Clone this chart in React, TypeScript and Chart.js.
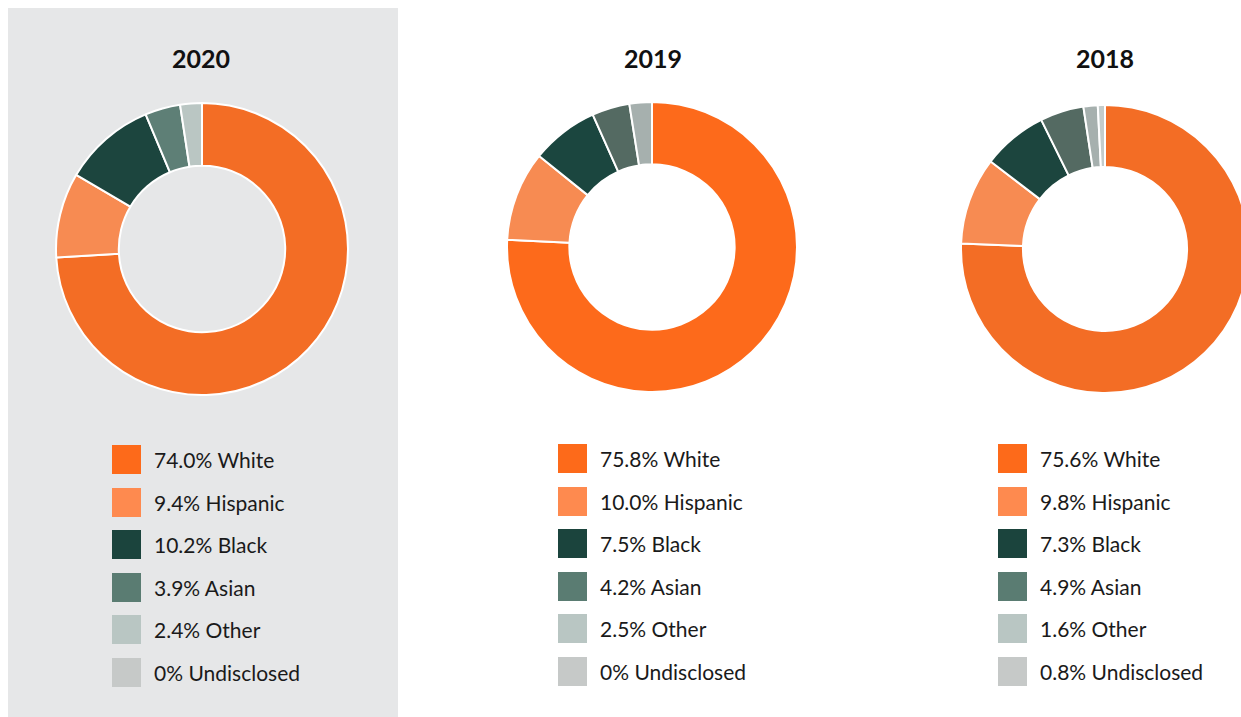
import React, { useEffect, useRef } from "react";
import { Chart, registerables } from "chart.js";

Chart.register(...registerables);

const categories = ["White", "Hispanic", "Black", "Asian", "Other", "Undisclosed"];
const years = ["2020", "2019", "2018"];
const values2020 = [74.0, 9.4, 10.2, 3.9, 2.4, 0];
const values2019 = [75.8, 10.0, 7.5, 4.2, 2.5, 0];
const values2018 = [75.6, 9.8, 7.3, 4.9, 1.6, 0.8];

const sliceColors2020 = ["#f36d25", "#f78b52", "#1c453e", "#5e7f76", "#bac6c3", "#c6cbca"];
const sliceColors2019 = ["#fd6a1b", "#f78b52", "#1b463f", "#546a62", "#a6b0ae", "#c6cbca"];
const sliceColors2018 = ["#f36d25", "#f78b52", "#1c453e", "#546a62", "#a6b0ae", "#c4cccb"];
const legendColors = ["#fd6a1a", "#fe8a4f", "#1b443d", "#5a7c72", "#b9c6c3", "#c6c9c8"];

const FONT = "Lato, 'Open Sans', sans-serif";

type PanelProps = {
  title: string;
  values: number[];
  colors: string[];
  canvasLeft: number;
  canvasTop: number;
  size: number;
  legendLeft: number;
  legendTop: number;
  titleCenter: number;
};

function fmt(v: number) {
  return v === 0 ? "0%" : v.toFixed(1) + "%";
}

function Doughnut({ values, colors, size, left, top }: { values: number[]; colors: string[]; size: number; left: number; top: number }) {
  const ref = useRef<HTMLCanvasElement | null>(null);
  useEffect(() => {
    if (!ref.current) return;
    const chart = new Chart(ref.current, {
      type: "doughnut",
      data: {
        labels: categories,
        datasets: [
          {
            data: values,
            backgroundColor: colors,
            borderColor: "#ffffff",
            borderWidth: 2,
          },
        ],
      },
      options: {
        responsive: false,
        animation: false,
        cutout: "57%",
        layout: { padding: 0 },
        plugins: { legend: { display: false }, tooltip: { enabled: false } },
      },
    });
    return () => chart.destroy();
  }, []);
  return (
    <canvas
      ref={ref}
      width={size}
      height={size}
      style={{ position: "absolute", left, top, width: size, height: size }}
    />
  );
}

function Panel(p: PanelProps) {
  return (
    <>
      <div
        style={{
          position: "absolute",
          left: p.titleCenter - 100,
          width: 200,
          top: 35,
          textAlign: "center",
          fontFamily: FONT,
          fontWeight: 700,
          fontSize: 25,
          lineHeight: "30px",
          color: "#111",
        }}
      >
        {p.title}
      </div>
      <Doughnut values={p.values} colors={p.colors} size={p.size} left={p.canvasLeft} top={p.canvasTop} />
      {categories.map((c, i) => (
        <div
          key={c}
          style={{
            position: "absolute",
            left: p.legendLeft,
            top: Math.round(p.legendTop + i * 42.6),
            height: 29,
            display: "flex",
            alignItems: "center",
            fontFamily: FONT,
            fontSize: 21,
            color: "#1a1a1a",
            whiteSpace: "nowrap",
          }}
        >
          <span style={{ display: "inline-block", width: 29, height: 29, background: legendColors[i], marginRight: 13 }} />
          <span>
            {fmt(p.values[i])} {c}
          </span>
        </div>
      ))}
    </>
  );
}

export default function App() {
  useEffect(() => {
    document.documentElement.style.overflow = "hidden";
    document.body.style.overflow = "hidden";
  }, []);
  return (
    <div style={{ position: "fixed", left: 0, top: 0, width: 1241, height: 717, overflow: "hidden", background: "#fff" }}>
      <div style={{ position: "absolute", left: 8, top: 8, width: 1233, height: 709 }}>
        <div style={{ position: "absolute", left: 0, top: 0, width: 390, height: 709, background: "#e6e7e8" }} />
        <Panel title={years[0]} values={values2020} colors={sliceColors2020} canvasLeft={47} canvasTop={94} size={294} legendLeft={104} legendTop={437} titleCenter={193} />
        <Panel title={years[1]} values={values2019} colors={sliceColors2019} canvasLeft={498} canvasTop={93} size={292} legendLeft={550} legendTop={436} titleCenter={645} />
        <Panel title={years[2]} values={values2018} colors={sliceColors2018} canvasLeft={952} canvasTop={96} size={290} legendLeft={990} legendTop={436} titleCenter={1097} />
      </div>
    </div>
  );
}
